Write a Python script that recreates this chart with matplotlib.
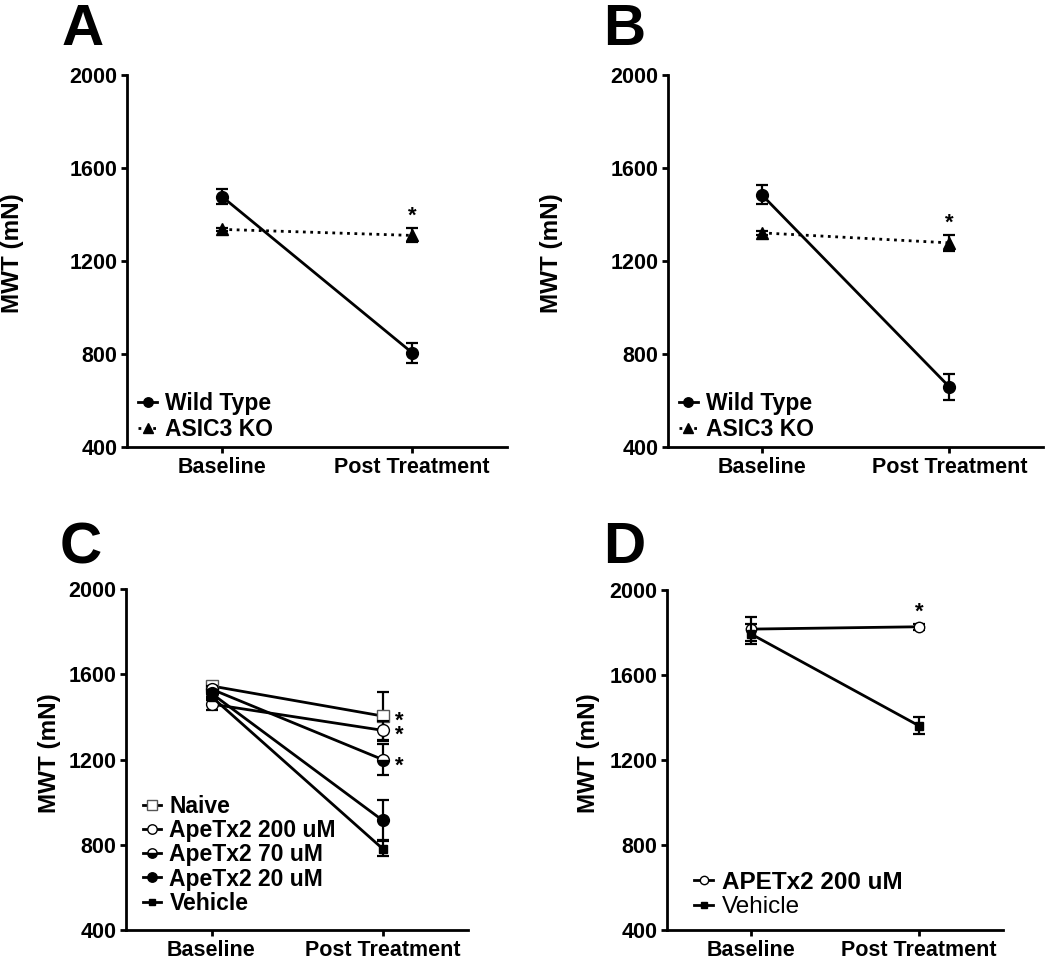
import matplotlib
matplotlib.use("Agg")
import matplotlib.pyplot as plt

plt.rcParams['font.family'] = ['Liberation Sans', 'DejaVu Sans']
plt.rcParams['font.weight'] = 'bold'
plt.rcParams['axes.labelweight'] = 'bold'

W, H = 1050, 959

timepoints = ["Baseline", "Post Treatment"]
x = [0, 1]

# Panel A
a_wt = [1477, 806]
a_wt_err = [32, 43]
a_ko = [1336, 1310]
a_ko_err = [8, 30]

# Panel B
b_wt = [1485, 659]
b_wt_err = [40, 55]
b_ko = [1321, 1278]
b_ko_err = [8, 33]

# Panel C
c_labels = ["Naive", "ApeTx2 200 uM", "ApeTx2 70 uM", "ApeTx2 20 uM", "Vehicle"]
c_naive = [1545, 1404]
c_naive_err = [15, 115]
c_200 = [1460, 1337]
c_200_err = [30, 45]
c_70 = [1530, 1200]
c_70_err = [15, 72]
c_20 = [1510, 915]
c_20_err = [15, 93]
c_veh = [1495, 782]
c_veh_err = [15, 35]

# Panel D
d_ape = [1816, 1827]
d_ape_err = [55, 15]
d_veh = [1793, 1361]
d_veh_err = [45, 40]


def make_axes(fig, l, r, t, b, label_right):
    ax = fig.add_axes([l / W, 1 - b / H, (r - l) / W, (b - t) / H])
    for s in ['top', 'right']:
        ax.spines[s].set_visible(False)
    for s in ['left', 'bottom']:
        ax.spines[s].set_linewidth(2)
    ax.set_xlim(-0.5, 1.5)
    ax.set_ylim(400, 2000)
    ax.set_yticks([400, 800, 1200, 1600, 2000])
    ax.set_xticks(x)
    ax.set_xticklabels(timepoints)
    ax.tick_params(width=2, length=4.5, labelsize=15.5, pad=2.5)
    ax.set_ylabel("MWT (mN)", fontsize=17.5)
    ax.yaxis.set_label_coords((label_right - l) / (r - l), 0.52)
    return ax


def series(ax, y, err, label, ms=8.5, **kw):
    ax.errorbar(x, y, yerr=err, fmt='none', ecolor='black', capsize=4.5,
                capthick=1.6, elinewidth=1.6)
    ax.plot(x, y, color='black', lw=2, markersize=ms, label=label, **kw)


def legend(ax, anchor, spacing, size=16.5):
    return ax.legend(loc='lower left', bbox_to_anchor=anchor, frameon=False,
                     fontsize=size, handlelength=0.8, handletextpad=0.35,
                     labelspacing=spacing, borderpad=0, borderaxespad=0,
                     markerscale=0.8)


fig = plt.figure(figsize=(W / 100, H / 100), dpi=100)

# A and B
for (l, r, lab_r, letter, wt, wt_err, ko, ko_err) in [
        (127, 507, 24, "A", a_wt, a_wt_err, a_ko, a_ko_err),
        (668, 1043, 563, "B", b_wt, b_wt_err, b_ko, b_ko_err)]:
    ax = make_axes(fig, l, r, 75, 447, lab_r)
    series(ax, wt, wt_err, "Wild Type", marker='o', ls='-')
    series(ax, ko, ko_err, "ASIC3 KO", marker='^', ls=':')
    ax.text(1, ko[1] + ko_err[1] + 8, "*", ha='center', va='bottom', fontsize=16)
    legend(ax, (0.03, 0.015), 0.15)
    fig.text((l - 65) / W, 1 - 45 / H, letter, fontsize=42, fontweight='bold')

# C
ax = make_axes(fig, 126, 468, 589, 930, 61)
series(ax, c_naive, c_naive_err, c_labels[0], ms=9, marker='s', mfc='white', mec='#555555')
series(ax, c_200, c_200_err, c_labels[1], marker='o', mfc='white')
series(ax, c_70, c_70_err, c_labels[2], marker='o', fillstyle='bottom', mfc='black',
       markerfacecoloralt='white')
series(ax, c_20, c_20_err, c_labels[3], marker='o')
series(ax, c_veh, c_veh_err, c_labels[4], ms=6, marker='s')
ax.text(1.1, (c_naive[1] + c_200[1]) / 2 - 22, "*\n*", ha='center', va='center',
        fontsize=16, linespacing=0.55)
ax.text(1.1, c_70[1] - 32, "*", ha='center', va='center', fontsize=16)
legend(ax, (0.05, 0.045), 0.05)
fig.text(60 / W, 1 - 563 / H, "C", fontsize=42, fontweight='bold')

# D
ax = make_axes(fig, 667, 1003, 590, 930, 600)
series(ax, d_ape, d_ape_err, "APETx2 200 uM", ms=7.5, marker='o', mfc='white')
series(ax, d_veh, d_veh_err, "Vehicle", ms=6, marker='s')
ax.text(1, d_ape[1] + d_ape_err[1] + 3, "*", ha='center', va='bottom', fontsize=16)
leg = legend(ax, (0.08, 0.035), 0.1, size=17.5)
leg.get_texts()[1].set_fontweight('normal')
fig.text(603 / W, 1 - 563 / H, "D", fontsize=42, fontweight='bold')

fig.savefig("out.png", dpi=100)
